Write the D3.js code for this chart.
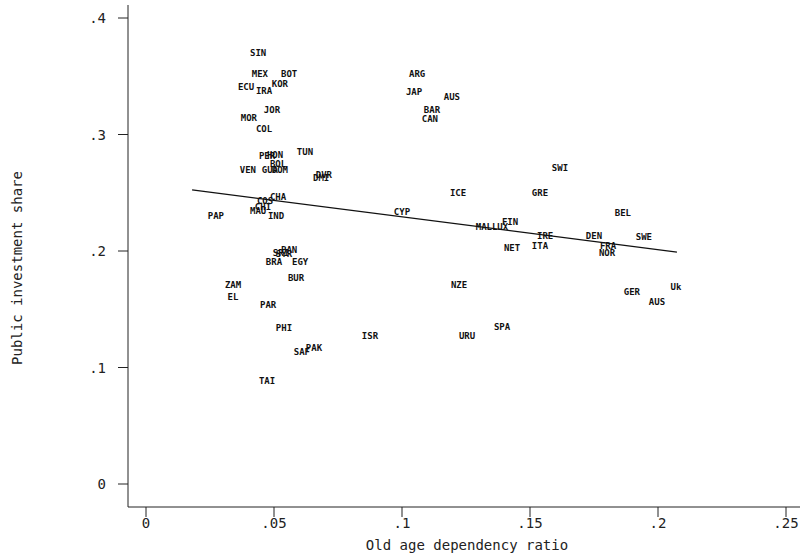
<!DOCTYPE html>
<html>
<head>
<meta charset="utf-8">
<script src="https://cdn.jsdelivr.net/npm/d3@7"></script>
<style>
  body { margin: 0; background: #fff; }
  svg { display: block; }
  .axis-text { font-family: "DejaVu Sans Mono", monospace; fill: #222; }
  .lbl { font-family: "DejaVu Sans Mono", monospace; font-size: 9px; font-weight: bold; fill: #111; }
</style>
</head>
<body>
<svg id="chart" width="803" height="557"></svg>
<script>
// country codes and their (old age dependency, public investment share)
var countries = ['SIN','MEX','BOT','KOR','ECU','IRA','JOR','MOR','COL','PER','HON','BOL','VEN','GUA','DOM','TUN','DMI','DVR',
  'CHA','COS','CHI','MAU','IND','PAP','PAN','SRI','SYR','BRA','EGY','BUR','ZAM','EL','PAR','PHI','ISR','PAK','SAF','TAI',
  'ARG','JAP','AUS','BAR','CAN','ICE','GRE','SWI','CYP','MAL','LUX','FIN','NET','IRE','ITA','DEN','FRA','NOR','SWE','BEL',
  'GER','AUS','Uk','NZE','URU','SPA'];
var oldAge = [0.0438,0.0445,0.0559,0.0523,0.0391,0.0461,0.0492,0.0402,0.0461,0.0473,0.0504,0.0516,0.0398,0.0484,0.0523,0.0621,0.0684,0.0695,
  0.0516,0.0465,0.0457,0.0438,0.0508,0.0273,0.0559,0.0527,0.0539,0.0500,0.0602,0.0586,0.0340,0.0340,0.0477,0.0539,0.0875,0.0656,0.0609,0.0473,
  0.1059,0.1047,0.1195,0.1117,0.1109,0.1219,0.1539,0.1617,0.1000,0.1320,0.1383,0.1422,0.1430,0.1559,0.1539,0.1750,0.1805,0.1801,0.1945,0.1863,
  0.1898,0.1996,0.2070,0.1223,0.1254,0.1391];
var pubInv = [0.370,0.352,0.352,0.343,0.341,0.337,0.321,0.314,0.305,0.2815,0.2824,0.2747,0.2695,0.2695,0.2695,0.285,0.2627,0.2653,
  0.2464,0.243,0.2378,0.2343,0.230,0.230,0.2009,0.1983,0.1974,0.1906,0.1906,0.1768,0.1708,0.1605,0.1536,0.1339,0.127,0.1167,0.1133,0.0884,
  0.352,0.3365,0.3322,0.321,0.3133,0.2498,0.2498,0.2712,0.2335,0.2206,0.2206,0.2249,0.2026,0.2129,0.2043,0.2129,0.2043,0.1983,0.212,0.2326,
  0.1648,0.1562,0.1691,0.1708,0.127,0.1348];

// fitted regression line endpoints
var fitX = [0.018, 0.2074];
var fitY = [0.2524, 0.1991];

var xTicks = [0, 0.05, 0.1, 0.15, 0.2, 0.25];
var yTicks = [0, 0.1, 0.2, 0.3, 0.4];

var svg = d3.select('#chart');

var x = d3.scaleLinear().domain([0, 0.25]).range([146, 786]);
var y = d3.scaleLinear().domain([0, 0.4]).range([484, 18]);

var axisLeftX = 128, axisBottomY = 507;

function fmt(v) {
  if(v === 0) return '0';
  return String(v).replace(/^0/, '');
}

// y axis
var yAxis = svg.append('g').attr('transform', 'translate(' + axisLeftX + ',0)');
yAxis.append('line').attr('x1', 0).attr('x2', 0).attr('y1', 5).attr('y2', axisBottomY)
  .attr('stroke', '#222').attr('stroke-width', 1);
yAxis.selectAll('line.tick').data(yTicks).enter().append('line').attr('class', 'tick')
  .attr('x1', -10).attr('x2', 0).attr('y1', function(d) { return y(d); }).attr('y2', function(d) { return y(d); })
  .attr('stroke', '#222');
yAxis.selectAll('text').data(yTicks).enter().append('text').attr('class', 'axis-text')
  .attr('x', -22).attr('y', function(d) { return y(d) + 5; })
  .attr('text-anchor', 'end').attr('font-size', 14)
  .text(fmt);

// x axis
var xAxis = svg.append('g').attr('transform', 'translate(0,' + axisBottomY + ')');
xAxis.append('line').attr('x1', axisLeftX).attr('x2', 800).attr('y1', 0).attr('y2', 0)
  .attr('stroke', '#222').attr('stroke-width', 1);
xAxis.selectAll('line.tick').data(xTicks).enter().append('line').attr('class', 'tick')
  .attr('x1', function(d) { return x(d); }).attr('x2', function(d) { return x(d); })
  .attr('y1', 0).attr('y2', 10).attr('stroke', '#222');
xAxis.selectAll('text').data(xTicks).enter().append('text').attr('class', 'axis-text')
  .attr('x', function(d) { return x(d); }).attr('y', 21)
  .attr('text-anchor', 'middle').attr('font-size', 14)
  .text(fmt);

// titles
svg.append('text').attr('class', 'axis-text')
  .attr('x', 467).attr('y', 550).attr('text-anchor', 'middle').attr('font-size', 14)
  .text('Old age dependency ratio');
svg.append('text').attr('class', 'axis-text')
  .attr('transform', 'translate(22,268) rotate(-90)').attr('text-anchor', 'middle').attr('font-size', 14)
  .text('Public investment share');

// fitted line
svg.append('line')
  .attr('x1', x(fitX[0])).attr('y1', y(fitY[0]))
  .attr('x2', x(fitX[1])).attr('y2', y(fitY[1]))
  .attr('stroke', '#111').attr('stroke-width', 1.3);

// country labels
var pts = countries.map(function(c, i) { return { name: c, ox: oldAge[i], pi: pubInv[i] }; });
svg.append('g').selectAll('text').data(pts).enter().append('text').attr('class', 'lbl')
  .attr('x', function(d) { return x(d.ox); })
  .attr('y', function(d) { return y(d.pi) + 3; })
  .attr('text-anchor', 'middle')
  .text(function(d) { return d.name; });
</script>
</body>
</html>
